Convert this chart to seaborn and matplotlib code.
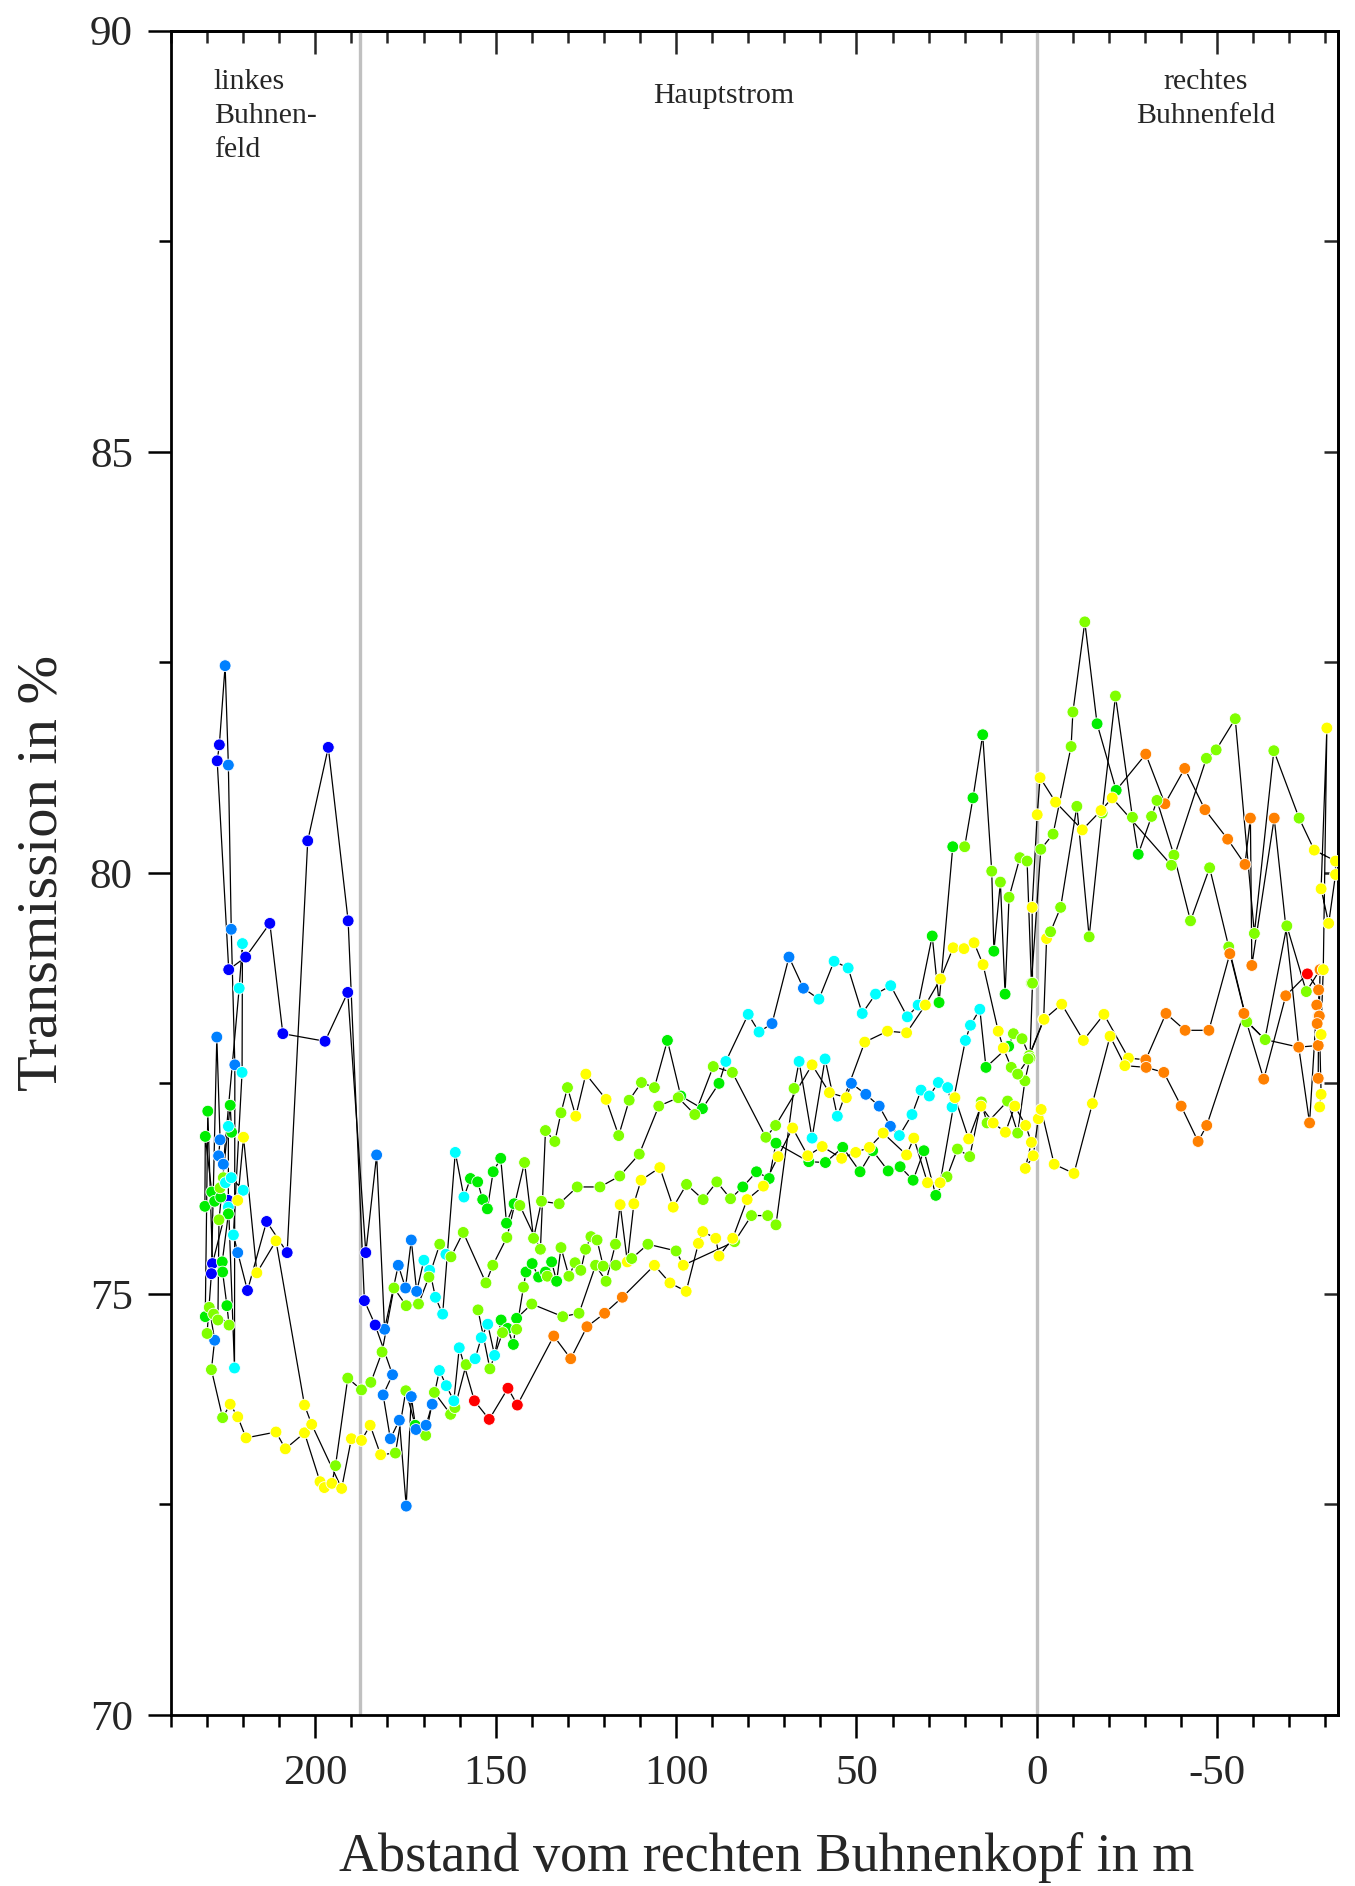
import matplotlib
matplotlib.use("Agg")
import matplotlib.pyplot as plt
from matplotlib.ticker import MultipleLocator
import pandas as pd
import seaborn as sns

# colour codes of the points (b blue, a azure, c cyan, g green, l lime, y yellow, o orange, r red)
COLORS = {"b": "#0000ff", "a": "#0080ff", "c": "#00ffff", "g": "#00ee00",
          "l": "#80ff00", "y": "#ffff00", "o": "#ff8000", "r": "#ff0000"}

# five transects: distance (m), transmission (%), colour code per point
x1 = [230.5, 229.8, 228.5, 224.1, 222.4, 222.3, 223.3, 224.1, 225.0, 226.6, 227.2, 224.0, 219.3, 212.6,
      209.0, 197.3, 191.0, 186.0, 183.0, 180.8, 177.0, 175.0, 173.4, 171.9, 169.9, 168.3, 166.7, 164.7,
      161.2, 158.8, 157.0, 155.0, 153.6, 152.3, 150.7, 148.6, 147.0, 144.9, 143.3, 137.6, 136.2, 133.6,
      131.9, 130.1, 127.8, 125.0, 119.4, 115.9, 113.0, 109.6, 106.0, 102.4, 98.7, 92.7, 88.1, 86.2, 80.0,
      77.0, 73.4, 68.7, 64.7, 60.4, 56.2, 52.3, 48.4, 44.7, 40.5, 35.9, 32.9, 29.0, 27.1, 23.3, 20.0,
      17.7, 15.0, 12.5, 11.9, 10.1, 8.8, 7.7, 4.7, 2.7, 1.5, -1.1, -4.5, -9.5, -10.0, -13.3, -16.7, -22.0,
      -30.2, -35.5, -41.0, -46.6, -52.9, -57.7, -59.2, -59.6, -65.8, -72.6, -75.6, -77.6, -78.1, -78.0]
y1 = [74.73, 77.17, 75.36, 76.11, 74.12, 77.72, 79.33, 81.28, 82.46, 81.52, 81.33, 78.85, 79.00, 79.40,
      78.09, 78.00, 78.58, 75.49, 76.65, 74.58, 75.34, 75.07, 75.64, 75.03, 75.40, 75.28, 74.96, 74.76,
      76.68, 76.15, 76.37, 76.33, 76.12, 76.01, 76.45, 76.61, 75.84, 76.07, 76.05, 75.53, 76.94, 76.81,
      77.15, 77.45, 77.11, 77.61, 77.31, 76.88, 77.30, 77.51, 77.45, 78.01, 77.35, 77.20, 77.50, 77.76,
      78.32, 78.11, 78.21, 79.00, 78.63, 78.50, 78.95, 78.87, 78.33, 78.56, 78.66, 78.29, 78.43, 79.25,
      78.46, 80.31, 80.31, 80.89, 81.64, 80.02, 79.07, 79.89, 78.56, 79.71, 80.18, 80.14, 78.69, 80.28,
      80.46, 81.50, 81.91, 82.98, 81.77, 80.98, 81.41, 80.82, 81.24, 80.75, 80.40, 80.10, 80.65, 78.90,
      80.65, 77.93, 77.03, 78.43, 78.30, 77.56]
c1 = ("ggbbcaaaa" + "b" * 9 + "a" * 6 + "c" * 6 + "g" * 8 + "l" * 6 + "yyy" + "llll" + "gggg" + "ccc"
      + "aaa" + "c" * 8 + "ggg" + "l" + "gg" + "lglg" + "l" * 9 + "gg" + "o" * 14)

x2 = [230.6, 230.5, 228.7, 227.9, 226.2, 223.6, 223.2, 224.1, 224.1, 224.1, 225.8, 225.7, 224.5, 223.9,
      229.4, 227.9, 228.8, 225.7, 223.6, 221.5, 219.2, 210.9, 208.3, 203.0, 198.7, 197.5, 195.4, 194.4,
      191.0, 187.2, 184.6, 181.5, 178.2, 174.8, 171.4, 168.5, 165.5, 163.8, 162.4, 159.0, 152.7, 150.8,
      146.9, 142.0, 139.5, 137.3, 132.4, 127.4, 121.1, 115.6, 110.2, 104.8, 99.4, 94.8, 89.7, 84.4, 75.1,
      72.4, 62.3, 57.5, 52.8, 51.4, 47.4, 43.7, 40.6, 38.1, 34.6, 32.1, 29.8, 27.3, 24.7, 23.5, 19.8,
      18.4, 15.8, 14.1, 7.8, 6.5, 4.1, 2.1, -1.9, -2.7, -3.8, -6.6, -11.1, -14.5, -18.1, -21.8, -26.5,
      -28.1, -31.8, -33.3, -38.0, -42.6, -47.9, -53.2, -58.2, -63.2, -69.3, -74.7, -78.5, -78.3, -77.7]
y2 = [76.04, 76.87, 76.21, 76.10, 76.15, 77.24, 76.92, 76.99, 76.03, 75.95, 75.38, 75.26, 74.86, 74.63,
      74.84, 74.45, 74.10, 73.53, 73.69, 73.54, 73.29, 73.36, 73.16, 73.35, 72.77, 72.70, 72.75, 72.96,
      74.00, 73.86, 73.95, 74.31, 75.07, 74.86, 74.88, 75.20, 75.59, 75.47, 75.44, 75.73, 75.13, 75.34,
      75.67, 76.56, 75.66, 76.10, 76.07, 76.27, 76.27, 76.40, 76.66, 77.23, 77.33, 77.13, 77.70, 77.63,
      76.86, 77.00, 77.72, 77.39, 77.33, 77.50, 77.37, 77.23, 76.99, 76.88, 77.13, 77.42, 77.35, 77.51,
      77.45, 77.22, 78.01, 78.19, 78.38, 77.69, 77.94, 78.09, 78.03, 77.83, 78.26, 79.22, 79.30, 79.59,
      80.79, 79.24, 80.71, 82.10, 80.66, 80.22, 80.67, 80.86, 80.21, 79.43, 80.06, 79.12, 78.24, 78.02,
      79.37, 78.59, 78.85, 78.30, 78.21]
c2 = ("ggggggg" + "cc" + "gggg" + "ll" + "a" + "ll" + "y" * 9 + "l" * 10 + "c" + "l" * 20 + "yyy"
      + "aaaa" + "c" * 10 + "gg" + "lll" + "yy" + "l" * 7 + "g" + "l" * 10 + "ooo")

x3 = [228.2, 227.0, 226.7, 225.5, 226.4, 224.9, 223.3, 220.0, 221.5, 219.9, 216.2, 210.9, 203.0, 201.0,
      192.7, 190.0, 187.2, 184.8, 181.9, 177.8, 174.9, 172.3, 169.4, 167.0, 162.5, 161.3, 158.2, 155.7,
      154.0, 152.2, 150.3, 148.5, 146.7, 145.1, 144.2, 140.0, 131.4, 126.9, 122.3, 119.4, 116.8, 115.5,
      113.5, 111.7, 109.7, 104.5, 100.8, 97.1, 92.5, 88.7, 84.9, 81.5, 77.7, 74.2, 72.3, 63.2, 58.6, 53.8,
      49.0, 45.5, 41.2, 37.9, 34.3, 31.3, 28.0, 24.9, 22.0, 18.6, 15.4, 13.8, 8.1, 5.3, 3.3, 1.9, 1.2,
      1.3, -0.1, -0.9, -5.2, -12.6, -17.8, -20.9, -37.3, -47.0, -49.7, -55.0, -60.3, -65.7, -72.7, -76.9,
      -82.8, -82.8, -80.9, -78.8, -80.4, -79.4, -78.7]
y3 = [74.76, 74.69, 75.88, 76.38, 76.26, 76.32, 76.38, 76.23, 76.11, 76.86, 75.25, 75.63, 73.68, 73.45,
      72.69, 73.28, 73.26, 73.44, 73.09, 73.11, 73.85, 73.44, 73.32, 73.83, 73.57, 73.65, 74.16, 74.23,
      74.48, 74.64, 74.27, 74.69, 74.59, 74.40, 74.71, 74.88, 74.73, 74.77, 75.34, 75.15, 75.59, 76.06,
      75.38, 76.07, 76.35, 76.50, 76.03, 76.30, 76.12, 76.33, 76.13, 76.27, 76.45, 76.37, 76.79, 76.57,
      76.56, 76.74, 76.45, 76.70, 76.46, 76.51, 76.35, 76.70, 76.17, 76.39, 76.72, 76.63, 77.28, 77.03,
      77.29, 76.91, 77.53, 77.80, 78.69, 79.59, 80.69, 81.13, 80.84, 80.51, 80.74, 80.89, 80.09, 81.36,
      81.46, 81.83, 79.28, 81.45, 80.65, 80.27, 80.14, 79.98, 79.40, 79.81, 81.72, 78.85, 78.08]
c3 = ("lllll" + "ccc" + "y" * 11 + "ll" + "g" + "lllll" + "cccc" + "gggg" + "l" * 6 + "y" * 6 + "llll"
      + "g" * 14 + "l" * 10 + "y" * 7 + "l" * 7 + "y" * 8)

x4 = [154.9, 151.6, 148.1, 144.2, 142.3, 141.6, 139.9, 138.1, 136.2, 135.7, 134.5, 133.1, 131.9, 129.7,
      128.0, 126.4, 125.1, 123.6, 121.9, 120.2, 116.7, 112.3, 107.8, 100.0, 98.0, 83.8, 79.1, 74.6, 72.3,
      67.3, 65.9, 62.3, 58.7, 55.3, 47.7, 41.4, 36.1, 30.9, 26.7, 23.2, 20.2, 17.4, 14.9, 10.7, 9.3, 7.1,
      5.3, 2.4, -2.0, -6.9, -12.9, -18.6, -25.4, -30.2, -35.8, -41.1, -47.7, -53.5, -58.2, -63.3, -72.6,
      -78.0, -78.8]
y4 = [74.81, 74.11, 74.54, 74.58, 75.08, 75.26, 75.36, 75.20, 75.26, 75.21, 75.38, 75.15, 75.55, 75.21,
      75.37, 75.28, 75.53, 75.68, 75.64, 75.33, 75.34, 75.42, 75.59, 75.51, 75.34, 75.62, 75.93, 75.93,
      75.82, 77.44, 77.76, 76.85, 77.79, 77.11, 77.99, 78.12, 78.10, 78.43, 78.74, 79.11, 79.10, 79.17,
      78.91, 78.12, 77.92, 77.69, 77.61, 77.79, 78.26, 78.44, 78.01, 78.32, 77.80, 77.78, 78.33, 78.13,
      78.13, 79.04, 78.23, 78.02, 77.93, 77.95, 78.08]
c4 = ("lllll" + "gggg" + "l" + "gg" + "l" * 12 + "y" + "lllll" + "cccc" + "y" * 11 + "lll" + "yyyyy"
      + "ooooo" + "ll" + "oo" + "y")

x5 = [230.0, 228.8, 227.3, 226.4, 226.8, 225.5, 221.1, 220.2, 220.3, 222.7, 221.5, 218.8, 213.5, 207.8,
      202.1, 196.4, 190.9, 186.4, 183.4, 178.6, 181.2, 179.2, 176.7, 174.8, 173.4, 172.1, 169.3, 167.6,
      165.6, 163.7, 161.6, 160.1, 155.9, 151.8, 146.6, 144.0, 133.9, 129.2, 124.7, 119.8, 114.9, 106.0,
      101.7, 97.2, 93.8, 92.6, 89.0, 88.1, 84.3, 80.3, 75.8, 71.7, 67.7, 63.5, 59.5, 54.1, 50.2, 46.4,
      42.6, 36.1, 34.1, 30.3, 26.8, 22.7, 18.9, 15.5, 12.1, 8.7, 6.1, 3.1, 1.5, 3.2, 1.0, -0.4, -1.2,
      -4.8, -10.3, -15.4, -20.3, -24.4, -30.3, -35.2, -40.0, -44.7, -47.1, -57.4, -62.9, -69.0, -75.0,
      -78.1, -78.8, -78.4]
y5 = [74.53, 75.24, 78.05, 76.83, 76.64, 76.54, 78.63, 79.16, 77.63, 75.70, 75.49, 75.04, 75.86, 75.49,
      80.38, 81.49, 79.43, 74.92, 74.63, 74.04, 73.80, 73.28, 73.50, 72.48, 73.78, 73.39, 73.44, 73.69,
      74.09, 73.91, 73.73, 74.36, 73.73, 73.51, 73.88, 73.68, 74.50, 74.23, 74.61, 74.77, 74.96, 75.34,
      75.13, 75.03, 75.60, 75.74, 75.66, 75.45, 75.66, 76.12, 76.28, 76.63, 76.97, 76.64, 76.75, 76.61,
      76.68, 76.74, 76.91, 76.65, 76.85, 76.32, 76.32, 77.33, 76.84, 77.23, 77.03, 76.92, 77.23, 77.00,
      76.80, 76.49, 76.64, 77.08, 77.19, 76.54, 76.43, 77.26, 78.06, 77.71, 77.69, 77.63, 77.23, 76.81,
      77.00, 78.33, 77.55, 78.54, 78.80, 78.61, 77.37, 77.22]
c5 = ("l" + "b" + "aaaa" + "cccc" + "a" + "b" * 8 + "a" * 9 + "cccc" + "rrrr" + "ooooo" + "y" * 39
      + "o" * 8 + "r" + "o" + "yy")

TRACES = [("1", x1, y1, c1), ("2", x2, y2, c2), ("3", x3, y3, c3), ("4", x4, y4, c4), ("5", x5, y5, c5)]

ZONE_EDGES = [187.5, 0.0]


def main():
    sns.set_style("ticks")
    plt.rcParams.update({
        "font.family": ["Liberation Serif", "DejaVu Serif"],
        "axes.unicode_minus": False,
        "axes.linewidth": 2.0,
        "axes.edgecolor": "black",
    })

    frames = []
    for name, xs, ys, cs in TRACES:
        assert len(xs) == len(ys) == len(cs), name
        frames.append(pd.DataFrame({"trace": name, "step": range(len(xs)),
                                    "x": xs, "y": ys, "code": list(cs)}))
    df = pd.concat(frames, ignore_index=True)

    fig = plt.figure(figsize=(13.55, 18.86), dpi=100)
    ax = fig.add_axes([0.1262, 0.0907, 0.8613, 0.8930])

    for xv in ZONE_EDGES:
        ax.axvline(xv, color="#c0c0c0", lw=2.4, zorder=0.5)

    sns.lineplot(data=df, x="x", y="y", units="trace", estimator=None, sort=False,
                 color="black", linewidth=0.9, ax=ax, zorder=2)
    sns.scatterplot(data=df, x="x", y="y", hue="code", palette=COLORS, s=72,
                    edgecolor="white", linewidth=0.6, legend=False, ax=ax, zorder=3)

    ax.set_xlim(240, -83.5)
    ax.set_ylim(70, 90)

    ax.xaxis.set_major_locator(MultipleLocator(50))
    ax.xaxis.set_minor_locator(MultipleLocator(10))
    ax.yaxis.set_major_locator(MultipleLocator(5))
    ax.yaxis.set_minor_locator(MultipleLocator(2.5))
    ax.tick_params(which="both", direction="out", top=False, right=False, width=1.8,
                   labelsize=31, color="black")
    ax.tick_params(which="major", length=16.5)
    ax.tick_params(which="minor", length=8.6)
    ax.tick_params(axis="x", pad=12)
    ax.tick_params(axis="y", pad=11)

    top = ax.secondary_xaxis("top")
    top.xaxis.set_major_locator(MultipleLocator(50))
    top.xaxis.set_minor_locator(MultipleLocator(10))
    top.tick_params(which="both", direction="in", labeltop=False, width=1.8)
    top.tick_params(which="major", length=16.5)
    top.tick_params(which="minor", length=8.6)
    top.spines["top"].set_linewidth(2.0)

    right = ax.secondary_yaxis("right")
    right.yaxis.set_major_locator(MultipleLocator(2.5))
    right.tick_params(which="both", direction="in", labelright=False, width=1.8, length=10)
    right.spines["right"].set_linewidth(2.0)

    ax.set_xlabel("Abstand vom rechten Buhnenkopf in m", fontsize=39)
    ax.set_ylabel("Transmission in %", fontsize=42)
    ax.xaxis.set_label_coords(0.51, -0.0695)
    ax.yaxis.set_label_coords(-0.088, 0.5)

    ax.text(228.1, 89.55, "linkes\nBuhnen-\nfeld", ha="left", va="top", fontsize=21.5,
            linespacing=1.42)
    ax.text(86.9, 89.38, "Hauptstrom", ha="center", va="top", fontsize=21.5)
    ax.text(-46.7, 89.55, "rechtes\nBuhnenfeld", ha="center", va="top", multialignment="center",
            fontsize=21.5, linespacing=1.42)

    fig.savefig("out.png", dpi=100)


if __name__ == "__main__":
    main()
